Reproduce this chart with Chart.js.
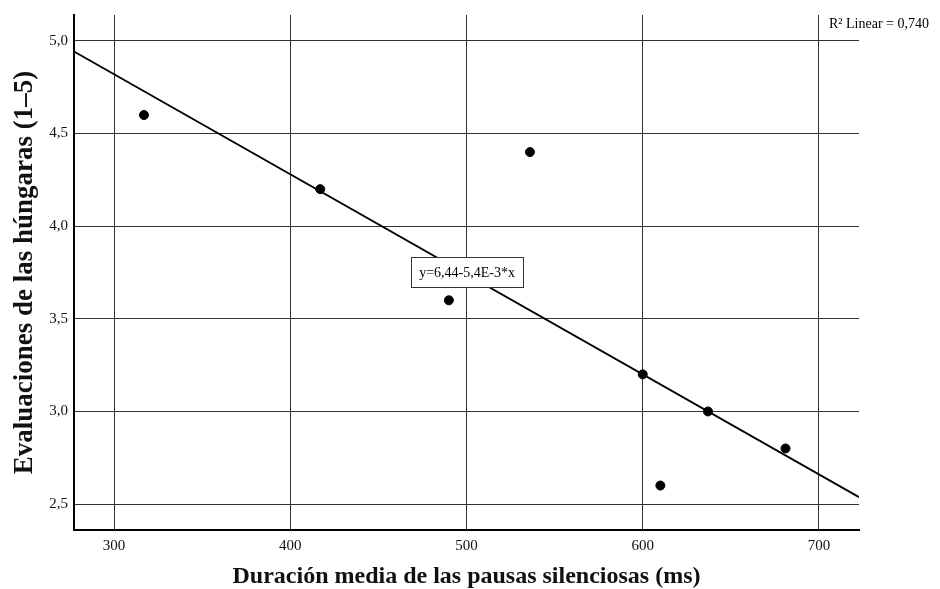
<!DOCTYPE html>
<html lang="es">
  <head>
    <meta charset="UTF-8" />
    <script src="https://cdn.jsdelivr.net/npm/chart.js@4.4.0/dist/chart.umd.min.js"></script>
    <title>Pausas silenciosas</title>
    <style>
      html, body { margin: 0; padding: 0; background: #fff; }
      #wrap { width: 940px; height: 589px; }
    </style>
  </head>
  <body>
    <div id="wrap"><canvas id="chart"></canvas></div>
    <script>
      // duración media de las pausas (ms) y evaluación (1-5)
      const pausas = [317, 417, 490, 536, 600, 610, 637, 681];
      const evaluaciones = [4.6, 4.2, 3.6, 4.4, 3.2, 2.6, 3.0, 2.8];

      const xTicks = [300, 400, 500, 600, 700];
      const yTicks = [2.5, 3.0, 3.5, 4.0, 4.5, 5.0];

      // recta de ajuste: y = 6,44 - 5,4E-3 * x
      const intercepto = 6.44;
      const pendiente = -0.0054;
      const r2 = "0,740";
      const ecuacion = "y=6,44-5,4E-3*x";

      const xMin = 277.3, xMax = 722.7;
      const yMin = 2.36, yMax = 5.14;

      const serif = "'Liberation Serif', 'DejaVu Serif', serif";

      const puntos = pausas.map((x, i) => ({ x: x, y: evaluaciones[i] }));
      const recta = [xMin, xMax].map((x) => ({ x: x, y: intercepto + pendiente * x }));

      const etiquetas = {
        id: "etiquetas",
        afterDatasetsDraw(chart) {
          const ctx = chart.ctx;
          const sx = chart.scales.x, sy = chart.scales.y;
          ctx.save();
          // caja con la ecuación
          ctx.font = "14px " + serif;
          const w = ctx.measureText(ecuacion).width + 16;
          const h = 30;
          const cx = sx.getPixelForValue(500.3);
          const cy = sy.getPixelForValue(3.75);
          ctx.fillStyle = "#fff";
          ctx.fillRect(Math.round(cx - w / 2) + 0.5, Math.round(cy - h / 2) + 0.5, Math.round(w), h);
          ctx.strokeStyle = "#333";
          ctx.lineWidth = 1;
          ctx.strokeRect(Math.round(cx - w / 2) + 0.5, Math.round(cy - h / 2) + 0.5, Math.round(w), h);
          ctx.fillStyle = "#000";
          ctx.textAlign = "center";
          ctx.textBaseline = "middle";
          ctx.fillText(ecuacion, cx, cy + 1);
          // R2
          ctx.font = "14px " + serif;
          ctx.textAlign = "left";
          ctx.textBaseline = "alphabetic";
          ctx.fillText("R\u00B2 Linear = " + r2, chart.chartArea.right - 30, 28);
          ctx.restore();
        },
      };

      const ctx = document.getElementById("chart").getContext("2d");
      const chart = new Chart(ctx, {
        type: "scatter",
        data: {
          datasets: [
            {
              label: "Ajuste",
              type: "line",
              data: recta,
              borderColor: "#000",
              borderWidth: 1.8,
              pointRadius: 0,
              fill: false,
              order: 2,
            },
            {
              label: "Evaluaciones",
              data: puntos,
              backgroundColor: "#000",
              borderColor: "#000",
              pointRadius: 4.5,
              order: 1,
            },
          ],
        },
        options: {
          responsive: true,
          maintainAspectRatio: false,
          animation: false,
          layout: { padding: { top: 14, right: 81, left: 0, bottom: 0 } },
          plugins: {
            legend: { display: false },
            tooltip: { enabled: false },
          },
          scales: {
            x: {
              type: "linear",
              min: xMin,
              max: xMax,
              afterBuildTicks: (s) => { s.ticks = xTicks.map((v) => ({ value: v })); },
              afterFit: (s) => { s.height = 59; },
              grid: { color: "#333", lineWidth: 1, drawTicks: false },
              border: { display: true, color: "#000", width: 2 },
              ticks: {
                color: "#111",
                font: { family: serif, size: 15 },
                padding: 7,
                maxRotation: 0,
                callback: (v) => String(v),
              },
              title: {
                display: true,
                text: "Duración media de las pausas silenciosas (ms)",
                color: "#111",
                font: { family: serif, size: 24, weight: "bold", lineHeight: 1 },
                padding: { top: 0, bottom: 0 },
              },
            },
            y: {
              type: "linear",
              min: yMin,
              max: yMax,
              afterBuildTicks: (s) => { s.ticks = yTicks.map((v) => ({ value: v })); },
              afterFit: (s) => { s.width = 74; },
              grid: { color: "#333", lineWidth: 1, drawTicks: false },
              border: { display: true, color: "#000", width: 2 },
              ticks: {
                color: "#111",
                font: { family: serif, size: 15 },
                padding: 6,
                callback: (v) => v.toFixed(1).replace(".", ","),
              },
              title: {
                display: true,
                text: "Evaluaciones de las húngaras (1–5)",
                color: "#111",
                font: { family: serif, size: 27, weight: "bold", lineHeight: 1 },
                padding: { top: 12, bottom: 0 },
              },
            },
          },
        },
        plugins: [etiquetas],
      });
    </script>
  </body>
</html>
